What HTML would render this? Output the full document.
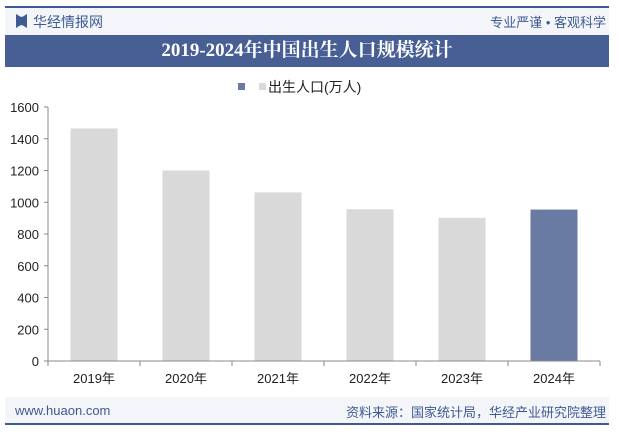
<!DOCTYPE html>
<html><head><meta charset="utf-8"><style>
body{margin:0;width:619px;height:435px;background:#fff;font-family:"Liberation Sans","Noto Sans CJK SC",sans-serif;position:relative;overflow:hidden}
.abs{position:absolute}
</style></head><body>
<div class="abs" style="left:5px;top:6px;width:604px;height:2px;background:#3f5a92"></div>
<div class="abs" style="left:5px;top:8px;width:604px;height:27px;background:#f3f5f9"></div>
<div class="abs" style="left:16px;top:14px;width:11px;height:14px;background:#3f5a92;clip-path:polygon(0 0,40% 20%,60% 20%,100% 0,100% 100%,60% 80%,40% 80%,0 100%)"></div>
<div class="abs" style="left:33px;top:12px;font-size:14px;color:#3f5a92">华经情报网</div>
<div class="abs" style="right:13px;top:12px;font-size:13px;color:#3f5a92">专业严谨 • 客观科学</div>
<div class="abs" style="left:5px;top:35px;width:604px;height:32px;background:#475f95;color:#fff;font-family:'Liberation Serif','Noto Serif CJK SC',serif;font-weight:bold;font-size:19px;text-align:center;line-height:32px">2019-2024年中国出生人口规模统计</div>
<div class="abs" style="left:238px;top:77px;font-size:14px;color:#222">
<span style="display:inline-block;width:7px;height:7px;background:#697ba2;margin-right:14px;vertical-align:2px"></span><span style="display:inline-block;width:7px;height:7px;background:#d9d9d9;margin-right:2px;vertical-align:2px"></span>出生人口(万人)</div>
<svg class="abs" style="left:0;top:0" width="619" height="435" id="chart"></svg>
<div class="abs" style="left:5px;top:397px;width:604px;height:26px;background:#f3f5f9"></div>
<div class="abs" style="left:15px;top:403px;font-size:13px;color:#3f5a92">www.huaon.com</div>
<div class="abs" style="right:13px;top:402px;font-size:13px;color:#3f5a92">资料来源：国家统计局，华经产业研究院整理</div>
<div class="abs" style="left:5px;top:423px;width:604px;height:2px;background:#3f5a92"></div>
<script>
const categories=["2019年","2020年","2021年","2022年","2023年","2024年"];
const births=[1465,1200,1062,956,902,954];
const yTicks=[0,200,400,600,800,1000,1200,1400,1600];
const svg=document.getElementById('chart');
const NS='http://www.w3.org/2000/svg';
const x0=48,x1=600,yB=361,yT=107,yMax=1600;
const y=v=>yB-(v/yMax)*(yB-yT);
const bw=(x1-x0)/categories.length;
function mk(t,a){const e=document.createElementNS(NS,t);for(const k in a)e.setAttribute(k,a[k]);svg.appendChild(e);return e;}
yTicks.forEach(v=>{
 const t=mk('line',{x1:x0-4,x2:x0,y1:y(v),y2:y(v),stroke:'#888'});
 
 const l=mk('text',{x:x0-9,y:y(v)+5,'text-anchor':'end','font-size':13,fill:'#222','font-family':'Liberation Sans'});
 l.textContent=v;
 
});
categories.forEach((c,i)=>{
 const cx=x0+bw*(i+0.5);
 const r=mk('rect',{x:cx-23.5,y:y(births[i]),width:47,height:yB-y(births[i]),fill:i==categories.length-1?'#697ba2':'#d9d9d9'});
 
 const l=mk('text',{x:cx,y:yB+22,'text-anchor':'middle','font-size':13,fill:'#222','font-family':'Liberation Sans, Noto Sans CJK SC, sans-serif'});
 l.textContent=c;
 
});
for(let i=0;i<=categories.length;i++){
 const t=mk('line',{x1:x0+bw*i,x2:x0+bw*i,y1:yB,y2:yB+5,stroke:'#888'});
 
}
const ya=mk('line',{x1:x0,x2:x0,y1:yT,y2:yB,stroke:'#888'});

const xa=mk('line',{x1:x0,x2:x1,y1:yB,y2:yB,stroke:'#888'});

</script>
</body></html>
